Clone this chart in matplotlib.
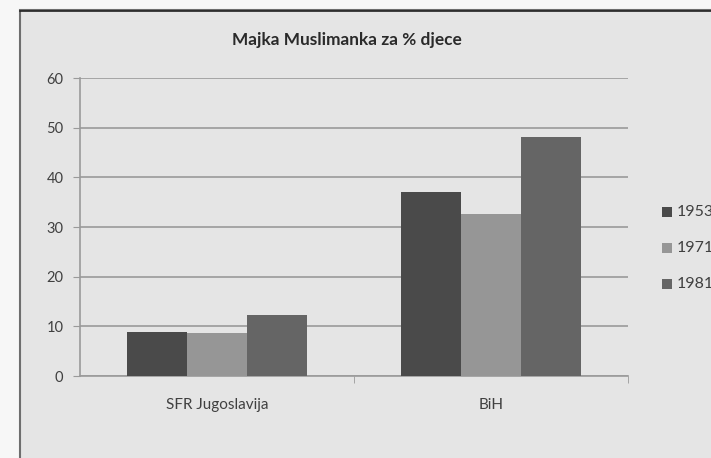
import matplotlib.pyplot as plt
import numpy as np
from matplotlib.patches import Rectangle

plt.rcParams['font.family'] = ['Lato', 'DejaVu Sans']

# data
categories = ['SFR Jugoslavija', 'BiH']
years = ['1953', '1971', '1981']
values_1953 = [8.9, 37.0]
values_1971 = [8.7, 32.7]
values_1981 = [12.2, 48.2]
series = [values_1953, values_1971, values_1981]
colors = ['#4a4a4a', '#969696', '#656565']

fig = plt.figure(figsize=(7.11, 4.58), dpi=100)
fig.patch.set_facecolor('#f7f7f7')

# chart frame (runs past the right and bottom edges of the image)
frame = Rectangle((20 / 711, -0.1), 1.2, 1 - 10 / 458 + 0.1, transform=fig.transFigure,
                  facecolor='#e5e5e5', edgecolor='#6e6e6e', linewidth=1.5, zorder=-5)
fig.patches.append(frame)
fig.add_artist(plt.Line2D([20 / 711, 1], [1 - 10.5 / 458] * 2, color='#222222',
                          linewidth=1.2, transform=fig.transFigure))

ax = fig.add_axes([80 / 711, 1 - 376 / 458, (628 - 80) / 711, (376 - 78) / 458])
ax.set_facecolor('none')

x = np.arange(len(categories))
width = 0.22
for i, (vals, col, yr) in enumerate(zip(series, colors, years)):
    ax.bar(x + (i - 1) * width, vals, width, color=col, label=yr, zorder=3)

ax.set_xlim(-0.5, 1.5)
ax.set_ylim(0, 60)
ax.set_yticks(np.arange(0, 61, 10))
ax.set_xticks(x)
ax.set_xticklabels(categories)
ax.set_xticks([0.5, 1.5], minor=True)
ax.yaxis.grid(True, color='#9a9a9a', linewidth=1.2, zorder=1)
ax.set_axisbelow(True)

for s in ['top', 'right']:
    ax.spines[s].set_visible(False)
ax.spines['left'].set_color('#9a9a9a')
ax.spines['bottom'].set_color('#9a9a9a')
ax.spines['left'].set_linewidth(1.2)
ax.spines['bottom'].set_linewidth(1.2)
ax.tick_params(axis='y', length=5, color='#9a9a9a', labelsize=10.5, labelcolor='#404040', pad=7)
ax.tick_params(axis='x', which='major', length=0, labelsize=11, labelcolor='#404040', pad=16)
ax.tick_params(axis='x', which='minor', length=5, color='#9a9a9a')

fig.text(347 / 711, 1 - 40 / 458, 'Majka Muslimanka za % djece', ha='center', va='center',
         fontsize=12.4, fontweight='bold', color='#2a2a2a')

# legend at the right edge (clipped by the image border)
for i, (yr, col) in enumerate(zip(years, colors)):
    yy = 1 - (212 + 36 * i) / 458
    fig.patches.append(Rectangle((662 / 711, yy - 5 / 458), 10 / 711, 10 / 458,
                                 transform=fig.transFigure, facecolor=col, edgecolor='none'))
    fig.text(677 / 711, yy, yr, ha='left', va='center', fontsize=11.5, color='#404040')

fig.savefig('out.png', dpi=100, facecolor=fig.get_facecolor())
